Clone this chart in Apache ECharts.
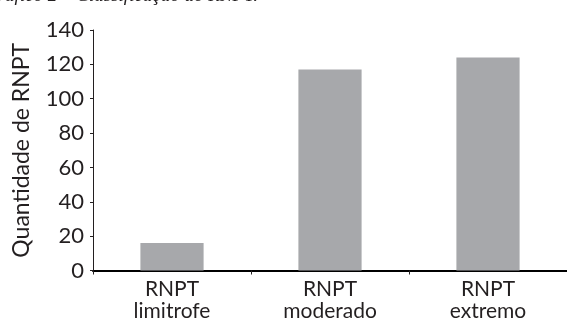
<!DOCTYPE html>
<html>
<head>
<meta charset="utf-8">
<script src="https://cdn.jsdelivr.net/npm/echarts@6/dist/echarts.min.js"></script>
<style>
html,body{margin:0;padding:0;background:#fff;}
#chart{width:567px;height:325px;}
</style>
</head>
<body>
<div id="chart"></div>
<script>
const categories = ['RNPT\nlimitrofe', 'RNPT\nmoderado', 'RNPT\nextremo'];
const values = [16, 117, 124];
const yTicks = [0, 20, 40, 60, 80, 100, 120, 140];
const yTitle = 'Quantidade de RNPT';
const chartTitle = 'Gráfico 2 – Classificação do RNPT.';

const chart = echarts.init(document.getElementById('chart'), null, {renderer: 'canvas'});
const font = 'Lato, "Noto Sans", sans-serif';
chart.setOption({
  animation: false,
  graphic: [{
    type: 'text', left: -16, top: -14,
    style: {text: chartTitle, font: 'italic 19px "Liberation Serif", serif', fill: '#231f20'}
  }],
  grid: {left: 93, right: -7, top: 30, bottom: 54.5},
  xAxis: {
    type: 'category',
    data: categories,
    axisLine: {lineStyle: {color: '#000', width: 2}},
    axisTick: {show: true, length: 4, lineStyle: {color: '#231f20', width: 1}},
    axisLabel: {color: '#231f20', fontFamily: font, fontSize: 21, lineHeight: 22, margin: 8}
  },
  yAxis: {
    type: 'value',
    min: yTicks[0], max: yTicks[yTicks.length - 1], interval: 20,
    name: yTitle, nameLocation: 'middle', nameGap: 60,
    nameTextStyle: {color: '#231f20', fontFamily: font, fontSize: 23},
    axisLine: {show: true, lineStyle: {color: '#231f20', width: 1}},
    axisTick: {show: true, length: 3, lineStyle: {color: '#231f20'}},
    splitLine: {show: false},
    axisLabel: {color: '#231f20', fontFamily: font, fontSize: 22, margin: 9}
  },
  series: [{
    type: 'bar',
    data: values,
    barWidth: '40%',
    itemStyle: {color: '#a7a8ab'}
  }]
});
</script>
</body>
</html>
